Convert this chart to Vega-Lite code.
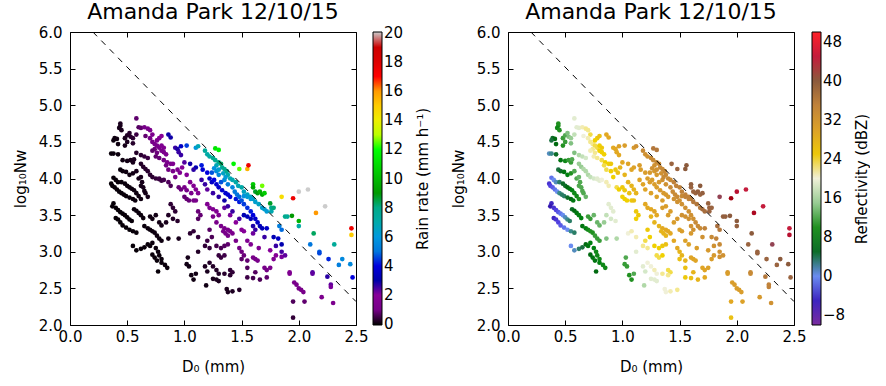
{
"$schema": "https://vega.github.io/schema/vega-lite/v6.json",
"background": "white",
"padding": {"left": 12, "top": 0, "right": 0, "bottom": 0},
"config": {
  "font": "DejaVu Sans",
  "view": {"stroke": "#000", "strokeWidth": 1},
  "axis": {"grid": false, "domain": false, "labelFlush": false, "tickColor": "#000", "tickSize": -5, "tickWidth": 1, "labelFont": "DejaVu Sans", "titleFont": "DejaVu Sans", "labelFontSize": 15, "labelColor": "#000", "titleFontSize": 15, "titleColor": "#000", "titleFontWeight": "normal", "labelPadding": 13},
  "axisBottom": {"labelPadding": 9, "titlePadding": 15},
  "axisLeft": {"titlePadding": 10},
  "legend": {"gradientLength": 293, "gradientThickness": 9, "gradientStrokeColor": "#000", "gradientStrokeWidth": 1, "labelFont": "DejaVu Sans", "labelFontSize": 15, "labelColor": "#000", "labelOffset": 7, "labelOverlap": false, "offset": -57, "padding": 0},
  "title": {"font": "DejaVu Sans", "fontSize": 22, "fontWeight": "normal", "color": "#000", "frame": "group", "offset": 0, "dy": 3},
  "concat": {"spacing": 19}
},
"datasets": {
  "line": [{"D0": 0.2, "N": 6.0}, {"D0": 2.5, "N": 2.32}],
  "pts": [
{"D0":0.44,"N":4.75,"R":0.19,"Z":10},{"D0":0.44,"N":4.72,"R":0.17,"Z":10},{"D0":0.43,"N":4.69,"R":0.14,"Z":9},{"D0":0.45,"N":4.66,"R":0.17,"Z":10},
{"D0":0.39,"N":4.55,"R":0.07,"Z":5},{"D0":0.41,"N":4.54,"R":0.08,"Z":6},{"D0":0.38,"N":4.52,"R":0.06,"Z":4},{"D0":0.42,"N":4.47,"R":0.08,"Z":6},
{"D0":0.36,"N":4.34,"R":0.03,"Z":1},{"D0":0.38,"N":4.34,"R":0.04,"Z":2},{"D0":0.42,"N":4.33,"R":0.06,"Z":5},
{"D0":0.48,"N":4.55,"R":0.17,"Z":11},{"D0":0.50,"N":4.59,"R":0.23,"Z":12},{"D0":0.52,"N":4.62,"R":0.3,"Z":14},{"D0":0.53,"N":4.57,"R":0.29,"Z":14},
{"D0":0.55,"N":4.55,"R":0.33,"Z":15},{"D0":0.50,"N":4.50,"R":0.19,"Z":11},{"D0":0.48,"N":4.45,"R":0.14,"Z":10},{"D0":0.55,"N":4.48,"R":0.28,"Z":14},
{"D0":0.58,"N":4.60,"R":0.47,"Z":17},{"D0":0.46,"N":4.25,"R":0.07,"Z":7},{"D0":0.50,"N":4.24,"R":0.1,"Z":9},{"D0":0.53,"N":4.25,"R":0.14,"Z":11},
{"D0":0.55,"N":4.22,"R":0.15,"Z":11},{"D0":0.56,"N":4.26,"R":0.18,"Z":12},{"D0":0.44,"N":4.12,"R":0.04,"Z":4},{"D0":0.46,"N":4.10,"R":0.05,"Z":5},
{"D0":0.49,"N":4.09,"R":0.07,"Z":7},{"D0":0.52,"N":4.05,"R":0.08,"Z":8},{"D0":0.55,"N":4.07,"R":0.11,"Z":10},{"D0":0.58,"N":4.10,"R":0.15,"Z":12},
{"D0":0.60,"N":4.00,"R":0.14,"Z":12},{"D0":0.62,"N":4.02,"R":0.17,"Z":13},{"D0":0.38,"N":4.01,"R":0.02,"Z":-1},{"D0":0.40,"N":3.98,"R":0.02,"Z":0},
{"D0":0.42,"N":3.95,"R":0.02,"Z":1},{"D0":0.36,"N":3.93,"R":0.01,"Z":-4},{"D0":0.37,"N":3.90,"R":0.01,"Z":-3},{"D0":0.39,"N":3.88,"R":0.01,"Z":-2},
{"D0":0.41,"N":3.85,"R":0.02,"Z":-1},{"D0":0.43,"N":3.82,"R":0.02,"Z":0},{"D0":0.45,"N":3.80,"R":0.02,"Z":2},{"D0":0.47,"N":3.78,"R":0.03,"Z":3},
{"D0":0.49,"N":3.76,"R":0.03,"Z":3},{"D0":0.52,"N":3.74,"R":0.04,"Z":5},{"D0":0.55,"N":3.72,"R":0.05,"Z":6},{"D0":0.57,"N":3.70,"R":0.05,"Z":7},
{"D0":0.45,"N":3.95,"R":0.03,"Z":3},{"D0":0.48,"N":3.93,"R":0.04,"Z":5},{"D0":0.50,"N":3.90,"R":0.05,"Z":5},{"D0":0.52,"N":3.88,"R":0.05,"Z":6},
{"D0":0.54,"N":3.86,"R":0.06,"Z":7},{"D0":0.56,"N":3.84,"R":0.07,"Z":8},{"D0":0.58,"N":3.80,"R":0.07,"Z":9},{"D0":0.60,"N":3.76,"R":0.08,"Z":9},
{"D0":0.62,"N":3.72,"R":0.08,"Z":10},{"D0":0.38,"N":3.66,"R":0.01,"Z":-5},{"D0":0.37,"N":3.62,"R":0.01,"Z":-6},{"D0":0.40,"N":3.60,"R":0.01,"Z":-4},
{"D0":0.42,"N":3.57,"R":0.01,"Z":-3},{"D0":0.44,"N":3.54,"R":0.01,"Z":-2},{"D0":0.46,"N":3.52,"R":0.01,"Z":-1},{"D0":0.48,"N":3.50,"R":0.02,"Z":0},
{"D0":0.50,"N":3.47,"R":0.02,"Z":1},{"D0":0.52,"N":3.44,"R":0.02,"Z":2},{"D0":0.54,"N":3.42,"R":0.02,"Z":3},{"D0":0.40,"N":3.46,"R":0.01,"Z":-5},
{"D0":0.42,"N":3.44,"R":0.01,"Z":-4},{"D0":0.44,"N":3.40,"R":0.01,"Z":-3},{"D0":0.46,"N":3.36,"R":0.01,"Z":-2},{"D0":0.49,"N":3.33,"R":0.01,"Z":-1},
{"D0":0.52,"N":3.30,"R":0.01,"Z":0},{"D0":0.55,"N":3.28,"R":0.02,"Z":2},{"D0":0.58,"N":3.26,"R":0.02,"Z":3},{"D0":0.56,"N":3.58,"R":0.04,"Z":5},
{"D0":0.58,"N":3.56,"R":0.04,"Z":6},{"D0":0.60,"N":3.53,"R":0.05,"Z":7},{"D0":0.62,"N":3.50,"R":0.05,"Z":8},{"D0":0.64,"N":3.46,"R":0.05,"Z":8},
{"D0":0.62,"N":3.90,"R":0.13,"Z":12},{"D0":0.64,"N":3.88,"R":0.14,"Z":12},{"D0":0.65,"N":3.83,"R":0.13,"Z":12},{"D0":0.66,"N":3.80,"R":0.13,"Z":12},
{"D0":0.68,"N":3.75,"R":0.14,"Z":13},{"D0":0.63,"N":3.95,"R":0.15,"Z":12},{"D0":0.55,"N":3.08,"R":0.01,"Z":0},{"D0":0.58,"N":3.02,"R":0.01,"Z":1},
{"D0":0.62,"N":3.04,"R":0.02,"Z":3},{"D0":0.65,"N":3.06,"R":0.02,"Z":4},{"D0":0.68,"N":3.10,"R":0.03,"Z":6},{"D0":0.70,"N":3.08,"R":0.03,"Z":7},
{"D0":0.72,"N":3.12,"R":0.04,"Z":8},{"D0":0.75,"N":3.05,"R":0.04,"Z":8},{"D0":0.77,"N":3.00,"R":0.04,"Z":9},{"D0":0.78,"N":2.95,"R":0.04,"Z":9},
{"D0":0.80,"N":2.90,"R":0.04,"Z":9},{"D0":0.80,"N":2.85,"R":0.04,"Z":8},{"D0":0.76,"N":2.88,"R":0.03,"Z":7},{"D0":0.74,"N":2.92,"R":0.03,"Z":7},
{"D0":0.72,"N":2.96,"R":0.03,"Z":6},{"D0":0.77,"N":2.73,"R":0.02,"Z":6},{"D0":0.85,"N":2.78,"R":0.04,"Z":9},{"D0":0.83,"N":2.82,"R":0.04,"Z":9},
{"D0":0.65,"N":3.35,"R":0.04,"Z":7},{"D0":0.68,"N":3.32,"R":0.05,"Z":8},{"D0":0.70,"N":3.30,"R":0.06,"Z":9},{"D0":0.72,"N":3.28,"R":0.06,"Z":10},
{"D0":0.74,"N":3.26,"R":0.07,"Z":10},{"D0":0.76,"N":3.22,"R":0.07,"Z":11},{"D0":0.78,"N":3.18,"R":0.07,"Z":11},{"D0":0.80,"N":3.15,"R":0.07,"Z":11},
{"D0":0.86,"N":3.18,"R":0.11,"Z":14},{"D0":0.95,"N":3.18,"R":0.17,"Z":16},{"D0":0.70,"N":3.48,"R":0.09,"Z":11},{"D0":0.72,"N":3.45,"R":0.09,"Z":11},
{"D0":0.75,"N":3.50,"R":0.12,"Z":13},{"D0":0.78,"N":3.40,"R":0.11,"Z":13},{"D0":0.80,"N":3.36,"R":0.12,"Z":13},{"D0":0.62,"N":4.20,"R":0.25,"Z":15},
{"D0":0.64,"N":4.16,"R":0.27,"Z":15},{"D0":0.66,"N":4.13,"R":0.29,"Z":16},{"D0":0.68,"N":4.10,"R":0.31,"Z":16},{"D0":0.70,"N":4.05,"R":0.32,"Z":16},
{"D0":0.72,"N":4.02,"R":0.33,"Z":17},{"D0":0.75,"N":4.00,"R":0.39,"Z":18},{"D0":0.78,"N":3.99,"R":0.45,"Z":19},{"D0":0.80,"N":3.97,"R":0.48,"Z":19},
{"D0":0.58,"N":4.35,"R":0.26,"Z":14},{"D0":0.62,"N":4.32,"R":0.33,"Z":16},{"D0":0.65,"N":4.30,"R":0.4,"Z":17},{"D0":0.68,"N":4.28,"R":0.47,"Z":18},
{"D0":0.58,"N":4.82,"R":0.78,"Z":19},{"D0":0.60,"N":4.70,"R":0.69,"Z":19},{"D0":0.62,"N":4.69,"R":0.78,"Z":19},{"D0":0.65,"N":4.70,"R":1.0,"Z":21},
{"D0":0.68,"N":4.68,"R":1.2,"Z":22},{"D0":0.70,"N":4.66,"R":1.3,"Z":22},{"D0":0.72,"N":4.60,"R":1.3,"Z":23},{"D0":0.66,"N":4.58,"R":0.81,"Z":20},
{"D0":0.70,"N":4.55,"R":1.0,"Z":21},{"D0":0.72,"N":4.50,"R":1.0,"Z":22},{"D0":0.74,"N":4.47,"R":1.1,"Z":22},{"D0":0.76,"N":4.45,"R":1.15,"Z":23},
{"D0":0.78,"N":4.42,"R":1.2,"Z":23},{"D0":0.80,"N":4.45,"R":1.45,"Z":24},{"D0":0.82,"N":4.42,"R":1.5,"Z":25},{"D0":0.78,"N":4.55,"R":1.6,"Z":25},
{"D0":0.80,"N":4.58,"R":1.9,"Z":26},{"D0":0.76,"N":4.52,"R":1.35,"Z":24},{"D0":0.74,"N":4.40,"R":0.9,"Z":22},{"D0":0.72,"N":4.38,"R":0.76,"Z":21},
{"D0":0.76,"N":4.35,"R":0.9,"Z":22},{"D0":0.80,"N":4.38,"R":1.2,"Z":24},{"D0":0.82,"N":4.36,"R":1.3,"Z":24},{"D0":0.84,"N":4.33,"R":1.4,"Z":24},
{"D0":0.75,"N":4.30,"R":0.78,"Z":21},{"D0":0.78,"N":4.28,"R":0.87,"Z":22},{"D0":0.82,"N":4.25,"R":1.0,"Z":23},{"D0":0.85,"N":4.22,"R":1.15,"Z":24},
{"D0":0.88,"N":4.20,"R":1.3,"Z":24},{"D0":0.90,"N":4.20,"R":1.4,"Z":25},{"D0":0.84,"N":4.18,"R":0.98,"Z":23},{"D0":0.86,"N":4.12,"R":0.95,"Z":23},
{"D0":0.90,"N":4.10,"R":1.1,"Z":24},{"D0":0.94,"N":4.12,"R":1.45,"Z":25},{"D0":0.96,"N":4.08,"R":1.45,"Z":26},{"D0":0.92,"N":4.02,"R":1.0,"Z":24},
{"D0":0.86,"N":4.60,"R":2.9,"Z":28},{"D0":0.88,"N":4.56,"R":2.9,"Z":28},{"D0":0.92,"N":4.42,"R":2.6,"Z":28},{"D0":0.94,"N":4.40,"R":2.8,"Z":28},
{"D0":0.95,"N":4.36,"R":2.6,"Z":28},{"D0":0.97,"N":4.32,"R":2.6,"Z":28},{"D0":0.78,"N":4.00,"R":0.46,"Z":19},{"D0":0.82,"N":3.98,"R":0.55,"Z":20},
{"D0":0.86,"N":3.95,"R":0.65,"Z":21},{"D0":0.88,"N":3.90,"R":0.63,"Z":21},{"D0":0.95,"N":3.88,"R":0.87,"Z":23},{"D0":0.97,"N":3.85,"R":0.9,"Z":24},
{"D0":1.00,"N":3.88,"R":1.1,"Z":25},{"D0":1.02,"N":3.84,"R":1.1,"Z":25},{"D0":1.00,"N":3.75,"R":0.81,"Z":24},{"D0":1.02,"N":3.72,"R":0.83,"Z":24},
{"D0":1.04,"N":3.70,"R":0.87,"Z":24},{"D0":1.06,"N":3.80,"R":1.2,"Z":26},{"D0":1.08,"N":3.70,"R":1.0,"Z":25},{"D0":0.88,"N":3.65,"R":0.35,"Z":19},
{"D0":0.90,"N":3.60,"R":0.35,"Z":19},{"D0":0.92,"N":3.55,"R":0.35,"Z":19},{"D0":0.86,"N":3.50,"R":0.23,"Z":17},{"D0":0.90,"N":3.45,"R":0.25,"Z":18},
{"D0":0.94,"N":3.42,"R":0.29,"Z":19},{"D0":0.84,"N":3.40,"R":0.16,"Z":15},{"D0":1.10,"N":3.85,"R":1.6,"Z":27},{"D0":1.12,"N":3.80,"R":1.55,"Z":27},
{"D0":1.10,"N":3.70,"R":1.1,"Z":26},{"D0":1.12,"N":3.55,"R":0.87,"Z":25},{"D0":1.14,"N":3.50,"R":0.83,"Z":25},{"D0":1.12,"N":3.45,"R":0.69,"Z":24},
{"D0":1.05,"N":3.25,"R":0.32,"Z":20},{"D0":1.08,"N":3.28,"R":0.39,"Z":21},{"D0":1.12,"N":3.20,"R":0.39,"Z":21},{"D0":1.20,"N":3.65,"R":1.5,"Z":28},
{"D0":1.22,"N":3.60,"R":1.45,"Z":28},{"D0":1.25,"N":3.58,"R":1.55,"Z":28},{"D0":1.28,"N":3.55,"R":1.6,"Z":29},{"D0":1.30,"N":3.50,"R":1.5,"Z":28},
{"D0":1.25,"N":3.48,"R":1.2,"Z":27},{"D0":1.28,"N":3.40,"R":1.1,"Z":27},{"D0":1.32,"N":3.35,"R":1.2,"Z":27},{"D0":1.35,"N":3.32,"R":1.2,"Z":28},
{"D0":1.38,"N":3.30,"R":1.25,"Z":28},{"D0":1.40,"N":3.28,"R":1.3,"Z":28},{"D0":1.42,"N":3.25,"R":1.3,"Z":28},{"D0":1.36,"N":3.25,"R":1.05,"Z":27},
{"D0":1.38,"N":3.22,"R":1.05,"Z":27},{"D0":1.34,"N":3.28,"R":1.05,"Z":27},{"D0":1.22,"N":3.30,"R":0.72,"Z":25},{"D0":1.24,"N":3.20,"R":0.62,"Z":24},
{"D0":1.20,"N":3.15,"R":0.47,"Z":23},{"D0":1.18,"N":3.08,"R":0.37,"Z":22},{"D0":1.22,"N":3.05,"R":0.41,"Z":22},{"D0":1.28,"N":3.08,"R":0.54,"Z":24},
{"D0":1.32,"N":3.05,"R":0.59,"Z":24},{"D0":1.35,"N":3.08,"R":0.69,"Z":25},{"D0":1.38,"N":3.10,"R":0.79,"Z":26},{"D0":1.30,"N":2.95,"R":0.43,"Z":23},
{"D0":1.32,"N":2.92,"R":0.44,"Z":23},{"D0":1.35,"N":2.95,"R":0.51,"Z":24},{"D0":1.45,"N":3.15,"R":1.1,"Z":28},{"D0":1.48,"N":3.05,"R":0.98,"Z":28},
{"D0":1.50,"N":3.00,"R":0.93,"Z":27},{"D0":1.52,"N":2.95,"R":0.89,"Z":27},{"D0":1.50,"N":2.90,"R":0.74,"Z":26},{"D0":1.55,"N":2.88,"R":0.83,"Z":27},
{"D0":1.60,"N":2.92,"R":1.05,"Z":29},{"D0":1.62,"N":2.90,"R":1.05,"Z":29},{"D0":1.64,"N":2.88,"R":1.07,"Z":29},{"D0":1.58,"N":3.10,"R":1.5,"Z":30},
{"D0":1.55,"N":3.15,"R":1.55,"Z":30},{"D0":1.50,"N":3.30,"R":1.9,"Z":30},{"D0":1.52,"N":3.28,"R":1.9,"Z":31},{"D0":1.45,"N":3.40,"R":2.0,"Z":31},
{"D0":1.48,"N":3.45,"R":2.5,"Z":32},{"D0":1.40,"N":3.50,"R":2.1,"Z":31},{"D0":1.42,"N":3.55,"R":2.6,"Z":31},{"D0":1.35,"N":3.60,"R":2.3,"Z":31},
{"D0":1.38,"N":3.62,"R":2.6,"Z":31},{"D0":1.22,"N":2.85,"R":0.26,"Z":20},{"D0":1.25,"N":2.80,"R":0.26,"Z":20},{"D0":1.28,"N":2.75,"R":0.25,"Z":21},
{"D0":1.30,"N":2.70,"R":0.24,"Z":20},{"D0":1.28,"N":2.62,"R":0.19,"Z":19},{"D0":1.35,"N":2.70,"R":0.29,"Z":22},{"D0":1.40,"N":2.75,"R":0.38,"Z":23},
{"D0":1.42,"N":2.72,"R":0.38,"Z":23},{"D0":1.40,"N":2.68,"R":0.32,"Z":22},{"D0":1.18,"N":2.80,"R":0.2,"Z":19},{"D0":1.20,"N":2.73,"R":0.18,"Z":18},
{"D0":1.55,"N":2.78,"R":0.66,"Z":26},{"D0":1.62,"N":2.72,"R":0.69,"Z":27},{"D0":1.70,"N":2.78,"R":1.0,"Z":29},{"D0":1.72,"N":2.75,"R":0.98,"Z":29},
{"D0":1.75,"N":2.78,"R":1.15,"Z":30},{"D0":1.72,"N":2.65,"R":0.78,"Z":28},{"D0":1.78,"N":2.90,"R":1.6,"Z":31},{"D0":1.80,"N":2.95,"R":1.9,"Z":32},
{"D0":1.85,"N":2.93,"R":2.1,"Z":33},{"D0":1.88,"N":2.95,"R":2.3,"Z":33},{"D0":1.92,"N":2.72,"R":1.5,"Z":32},{"D0":1.92,"N":2.70,"R":1.45,"Z":31},
{"D0":1.96,"N":2.58,"R":1.2,"Z":31},{"D0":1.98,"N":2.55,"R":1.2,"Z":31},{"D0":2.00,"N":2.50,"R":1.1,"Z":31},{"D0":2.02,"N":2.48,"R":1.1,"Z":31},
{"D0":2.04,"N":2.45,"R":1.07,"Z":31},{"D0":1.95,"N":2.32,"R":0.65,"Z":28},{"D0":2.05,"N":2.32,"R":0.81,"Z":30},{"D0":2.12,"N":2.72,"R":2.4,"Z":34},
{"D0":2.12,"N":2.70,"R":2.3,"Z":34},{"D0":2.20,"N":2.38,"R":1.3,"Z":32},{"D0":2.28,"N":2.55,"R":2.3,"Z":35},{"D0":2.28,"N":2.52,"R":2.1,"Z":35},
{"D0":2.30,"N":2.30,"R":1.3,"Z":33},{"D0":1.95,"N":2.10,"R":0.39,"Z":26},{"D0":1.19,"N":2.54,"R":0.11,"Z":16},{"D0":1.25,"N":2.63,"R":0.17,"Z":19},
{"D0":1.30,"N":2.60,"R":0.19,"Z":19},{"D0":1.37,"N":2.49,"R":0.19,"Z":20},{"D0":1.38,"N":2.45,"R":0.18,"Z":20},{"D0":1.42,"N":2.46,"R":0.21,"Z":21},
{"D0":1.48,"N":2.48,"R":0.26,"Z":22},{"D0":1.03,"N":2.92,"R":0.14,"Z":12},{"D0":1.02,"N":2.83,"R":0.11,"Z":11},{"D0":1.04,"N":2.80,"R":0.11,"Z":11},
{"D0":1.06,"N":2.68,"R":0.09,"Z":10},{"D0":1.08,"N":2.62,"R":0.09,"Z":10},{"D0":1.10,"N":2.70,"R":0.11,"Z":12},{"D0":1.12,"N":3.00,"R":0.25,"Z":19},
{"D0":1.60,"N":2.64,"R":0.55,"Z":26},{"D0":1.55,"N":2.65,"R":0.49,"Z":25},{"D0":1.66,"N":2.62,"R":0.62,"Z":27},
{"D0":1.02,"N":4.45,"R":4.5,"Z":31},{"D0":0.97,"N":4.44,"R":3.5,"Z":30},{"D0":1.10,"N":4.42,"R":5.9,"Z":32},{"D0":1.12,"N":4.44,"R":6.8,"Z":33},
{"D0":1.18,"N":4.38,"R":7.4,"Z":34},{"D0":1.20,"N":4.33,"R":7.1,"Z":33},{"D0":1.22,"N":4.30,"R":7.2,"Z":33},{"D0":1.25,"N":4.28,"R":7.8,"Z":34},
{"D0":1.27,"N":4.25,"R":7.8,"Z":34},{"D0":1.30,"N":4.22,"R":7.9,"Z":34},{"D0":1.28,"N":4.18,"R":6.8,"Z":33},{"D0":1.32,"N":4.20,"R":8.3,"Z":34},
{"D0":1.33,"N":4.15,"R":7.6,"Z":34},{"D0":1.35,"N":4.13,"R":7.8,"Z":34},{"D0":1.28,"N":4.10,"R":5.6,"Z":32},{"D0":1.30,"N":4.05,"R":5.4,"Z":32},
{"D0":1.34,"N":4.07,"R":6.5,"Z":33},{"D0":1.37,"N":4.10,"R":7.8,"Z":34},{"D0":1.38,"N":4.05,"R":7.1,"Z":34},{"D0":1.40,"N":4.00,"R":6.8,"Z":34},
{"D0":1.42,"N":3.98,"R":6.9,"Z":34},{"D0":1.45,"N":3.95,"R":7.1,"Z":35},{"D0":1.47,"N":3.90,"R":6.8,"Z":35},{"D0":1.50,"N":3.88,"R":7.1,"Z":35},
{"D0":1.52,"N":3.82,"R":6.6,"Z":35},{"D0":1.55,"N":3.78,"R":6.6,"Z":35},{"D0":1.58,"N":3.75,"R":6.6,"Z":35},{"D0":1.60,"N":3.72,"R":6.6,"Z":36},
{"D0":1.62,"N":3.68,"R":6.3,"Z":36},{"D0":1.65,"N":3.65,"R":6.5,"Z":36},{"D0":1.68,"N":3.60,"R":6.3,"Z":36},{"D0":1.70,"N":3.58,"R":6.3,"Z":37},
{"D0":1.72,"N":3.55,"R":6.2,"Z":37},{"D0":1.76,"N":3.55,"R":6.9,"Z":38},{"D0":1.10,"N":4.15,"R":3.2,"Z":30},{"D0":1.15,"N":4.18,"R":4.2,"Z":31},
{"D0":1.16,"N":4.12,"R":3.8,"Z":31},{"D0":1.20,"N":4.08,"R":4.0,"Z":31},{"D0":1.22,"N":4.00,"R":3.6,"Z":31},{"D0":1.24,"N":3.95,"R":3.5,"Z":31},
{"D0":1.26,"N":3.98,"R":4.0,"Z":31},{"D0":1.28,"N":3.92,"R":3.7,"Z":31},{"D0":1.30,"N":3.88,"R":3.6,"Z":31},{"D0":1.33,"N":3.84,"R":3.7,"Z":32},
{"D0":1.36,"N":3.80,"R":3.7,"Z":32},{"D0":1.38,"N":3.78,"R":3.8,"Z":32},{"D0":1.40,"N":3.75,"R":3.8,"Z":32},{"D0":1.45,"N":3.72,"R":4.2,"Z":33},
{"D0":1.48,"N":3.68,"R":4.2,"Z":33},{"D0":1.50,"N":3.70,"R":4.7,"Z":33},{"D0":1.52,"N":3.65,"R":4.5,"Z":33},{"D0":1.55,"N":3.60,"R":4.4,"Z":33},
{"D0":1.58,"N":3.55,"R":4.2,"Z":33},{"D0":1.60,"N":3.50,"R":4.0,"Z":33},{"D0":1.62,"N":3.45,"R":3.7,"Z":33},{"D0":1.64,"N":3.40,"R":3.5,"Z":34},
{"D0":1.66,"N":3.35,"R":3.3,"Z":34},{"D0":1.68,"N":3.32,"R":3.3,"Z":34},{"D0":1.08,"N":4.12,"R":2.7,"Z":29},{"D0":1.05,"N":4.20,"R":2.9,"Z":29},
{"D0":1.00,"N":4.22,"R":2.4,"Z":28},{"D0":1.35,"N":3.98,"R":5.5,"Z":33},{"D0":1.32,"N":3.95,"R":4.7,"Z":32},{"D0":1.38,"N":3.92,"R":5.2,"Z":33},
{"D0":1.42,"N":3.88,"R":5.5,"Z":34},{"D0":1.44,"N":3.82,"R":5.1,"Z":34},{"D0":1.46,"N":3.78,"R":5.0,"Z":34},{"D0":1.48,"N":3.75,"R":4.9,"Z":34},
{"D0":1.52,"N":3.76,"R":5.8,"Z":34},{"D0":1.55,"N":3.75,"R":6.2,"Z":35},{"D0":1.58,"N":3.72,"R":6.2,"Z":35},{"D0":1.30,"N":4.12,"R":6.3,"Z":33},
{"D0":1.26,"N":4.14,"R":5.8,"Z":33},{"D0":1.24,"N":4.08,"R":4.7,"Z":32},{"D0":1.36,"N":4.02,"R":6.2,"Z":34},{"D0":1.72,"N":3.32,"R":3.6,"Z":35},
{"D0":1.78,"N":3.20,"R":3.2,"Z":34},{"D0":1.82,"N":3.18,"R":3.5,"Z":35},{"D0":1.80,"N":3.08,"R":2.6,"Z":33},{"D0":1.85,"N":3.10,"R":3.1,"Z":34},
{"D0":1.85,"N":3.00,"R":2.5,"Z":33},{"D0":1.83,"N":3.35,"R":5.2,"Z":37},{"D0":1.85,"N":3.30,"R":4.9,"Z":36},{"D0":1.52,"N":3.50,"R":3.2,"Z":33},
{"D0":1.55,"N":3.48,"R":3.3,"Z":33},{"D0":1.58,"N":3.45,"R":3.3,"Z":33},{"D0":1.60,"N":3.35,"R":2.8,"Z":33},{"D0":1.62,"N":3.30,"R":2.6,"Z":33},
{"D0":1.60,"N":3.25,"R":2.2,"Z":32},
{"D0":1.27,"N":4.41,"R":11.2,"Z":36},{"D0":1.30,"N":4.39,"R":11.7,"Z":36},{"D0":1.43,"N":4.20,"R":11.7,"Z":38},{"D0":1.48,"N":4.13,"R":12.5,"Z":38},
{"D0":1.55,"N":4.13,"R":15.5,"Z":40},{"D0":1.56,"N":4.18,"R":17.5,"Z":40},{"D0":1.60,"N":3.92,"R":10.5,"Z":39},{"D0":1.68,"N":3.90,"R":12.6,"Z":40},
{"D0":1.60,"N":3.88,"R":9.5,"Z":38},{"D0":1.62,"N":3.82,"R":8.7,"Z":38},{"D0":1.64,"N":3.80,"R":8.9,"Z":38},{"D0":1.66,"N":3.82,"R":9.8,"Z":39},
{"D0":1.68,"N":3.78,"R":9.5,"Z":38},{"D0":1.70,"N":3.80,"R":10.5,"Z":39},{"D0":1.75,"N":3.66,"R":8.7,"Z":38},{"D0":1.76,"N":3.60,"R":7.8,"Z":38},
{"D0":1.78,"N":3.60,"R":8.1,"Z":38},{"D0":1.85,"N":3.75,"R":14.5,"Z":41},{"D0":1.95,"N":3.73,"R":17.5,"Z":42},{"D0":2.00,"N":3.82,"R":21,"Z":44},
{"D0":2.08,"N":3.85,"R":22,"Z":45},{"D0":2.23,"N":3.62,"R":21,"Z":45},{"D0":2.15,"N":3.53,"R":16,"Z":43},{"D0":1.88,"N":3.48,"R":7.9,"Z":39},
{"D0":1.90,"N":3.48,"R":7.6,"Z":39},{"D0":1.94,"N":3.49,"R":9,"Z":40},{"D0":2.00,"N":3.42,"R":9.8,"Z":40},{"D0":2.00,"N":3.35,"R":7.2,"Z":39},
{"D0":2.13,"N":3.25,"R":8.3,"Z":40},{"D0":2.31,"N":3.10,"R":7.5,"Z":41},{"D0":2.46,"N":3.32,"R":17.5,"Z":45},{"D0":2.46,"N":3.23,"R":15,"Z":44},
{"D0":2.10,"N":3.10,"R":5.0,"Z":38},{"D0":2.18,"N":3.00,"R":4.8,"Z":38},{"D0":2.18,"N":2.98,"R":4.6,"Z":38},{"D0":2.26,"N":2.90,"R":4.3,"Z":38},
{"D0":2.35,"N":2.82,"R":5.2,"Z":38},{"D0":2.38,"N":2.90,"R":5.5,"Z":40},{"D0":2.45,"N":2.83,"R":5.5,"Z":40},{"D0":2.47,"N":2.65,"R":4.0,"Z":38},
{"D0":2.25,"N":2.66,"R":2.7,"Z":36},{"D0":1.05,"N":3.95,"R":1.6,"Z":27},{"D0":1.08,"N":3.90,"R":1.6,"Z":27},{"D0":1.15,"N":3.98,"R":2.6,"Z":29},
{"D0":1.18,"N":3.92,"R":2.6,"Z":29},{"D0":1.20,"N":3.85,"R":2.3,"Z":29},{"D0":1.25,"N":3.80,"R":2.6,"Z":30},{"D0":1.30,"N":3.75,"R":2.7,"Z":30},
{"D0":1.35,"N":3.70,"R":2.9,"Z":31},{"D0":0.98,"N":4.15,"R":1.9,"Z":27},{"D0":1.02,"N":4.05,"R":1.8,"Z":27},{"D0":1.75,"N":3.02,"R":2.0,"Z":32},
{"D0":1.65,"N":3.05,"R":1.6,"Z":31},{"D0":1.70,"N":3.20,"R":2.6,"Z":33}
  ]
},
"hconcat": [
  {
    "width": 286, "height": 293,
    "title": "Amanda Park 12/10/15",
    "layer": [
      {"data": {"name": "pts"},
       "mark": {"type": "circle", "size": 22, "opacity": 1},
       "encoding": {
         "x": {"field": "D0", "type": "quantitative", "scale": {"domain": [0, 2.5], "nice": false, "zero": false}, "axis": {"title": "D₀ (mm)", "values": [0, 0.5, 1, 1.5, 2, 2.5], "format": ".1f"}},
         "y": {"field": "N", "type": "quantitative", "scale": {"domain": [2, 6], "nice": false, "zero": false}, "axis": {"title": "log₁₀Nw", "values": [2, 2.5, 3, 3.5, 4, 4.5, 5, 5.5, 6], "format": ".1f"}},
         "color": {"field": "R", "type": "quantitative",
           "scale": {"domain": [-0.05,1,2,3,4,5,6,7,8,9,10,11,12,13,14,15,16,17,18,19,20.05],
                     "range": ["#000000","#770088","#880099","#0000aa","#0000dd","#0077dd","#0099dd","#00aaaa","#00aa88","#009900","#00bb00","#00dd00","#00ff00","#bbff00","#eeee00","#ffcc00","#ff9900","#ff0000","#dd0000","#cc0000","#cccccc"],
                     "interpolate": "rgb", "clamp": true},
           "legend": {"title": null, "values": [0,2,4,6,8,10,12,14,16,18,20]}}
       }},
      {"data": {"name": "line"},
       "mark": {"type": "line", "color": "#000", "strokeDash": [6, 6], "strokeWidth": 1},
       "encoding": {
         "x": {"field": "D0", "type": "quantitative", "scale": {"domain": [0, 2.5], "nice": false, "zero": false}, "axis": {"orient": "top", "labels": false, "title": null, "values": [0, 0.5, 1, 1.5, 2, 2.5]}},
         "y": {"field": "N", "type": "quantitative", "scale": {"domain": [2, 6], "nice": false, "zero": false}, "axis": {"orient": "right", "labels": false, "title": "Rain rate (mm h⁻¹)", "titleAngle": 270, "titleX": 66, "titleY": 146.5, "titleAlign": "center", "titleBaseline": "middle", "values": [2, 2.5, 3, 3.5, 4, 4.5, 5, 5.5, 6]}}
       }}
    ],
    "resolve": {"axis": {"x": "independent", "y": "independent"}}
  },
  {
    "width": 286, "height": 293,
    "title": "Amanda Park 12/10/15",
    "layer": [
      {"data": {"name": "pts"},
       "mark": {"type": "circle", "size": 22, "opacity": 1},
       "encoding": {
         "x": {"field": "D0", "type": "quantitative", "scale": {"domain": [0, 2.5], "nice": false, "zero": false}, "axis": {"title": "D₀ (mm)", "values": [0, 0.5, 1, 1.5, 2, 2.5], "format": ".1f"}},
         "y": {"field": "N", "type": "quantitative", "scale": {"domain": [2, 6], "nice": false, "zero": false}, "axis": {"title": "log₁₀Nw", "values": [2, 2.5, 3, 3.5, 4, 4.5, 5, 5.5, 6], "format": ".1f"}},
         "color": {"field": "Z", "type": "quantitative",
           "scale": {"domain": [-10,-8,-6,-3,0,2,4,6,8,10,12,14,16,18,20,22,24,26,28,32,35,38,40,40.8,42,44,46,48,50],
                     "range": ["#7a2c9e","#2c1080","#3418b0","#5040e0","#6a8cf0","#3a8a8a","#1a7040","#006a10","#008010","#209020","#50a850","#80c080","#b0d8a8","#d4e8c8","#f0f0d8","#f4e890","#f0d000","#eac014","#e2a822","#d6992e","#c0823a","#9a6440","#8b5a3c","#905060","#a00010","#b81030","#d02848","#e83858","#ff2028"],
                     "interpolate": "rgb", "clamp": true},
           "legend": {"title": null, "values": [-8,0,8,16,24,32,40,48], "labelExpr": "replace(datum.label, '-', '−')"}}
       }},
      {"data": {"name": "line"},
       "mark": {"type": "line", "color": "#000", "strokeDash": [6, 6], "strokeWidth": 1},
       "encoding": {
         "x": {"field": "D0", "type": "quantitative", "scale": {"domain": [0, 2.5], "nice": false, "zero": false}, "axis": {"orient": "top", "labels": false, "title": null, "values": [0, 0.5, 1, 1.5, 2, 2.5]}},
         "y": {"field": "N", "type": "quantitative", "scale": {"domain": [2, 6], "nice": false, "zero": false}, "axis": {"orient": "right", "labels": false, "title": "Reflectivity (dBZ)", "titleAngle": 270, "titleX": 67, "titleY": 146.5, "titleAlign": "center", "titleBaseline": "middle", "values": [2, 2.5, 3, 3.5, 4, 4.5, 5, 5.5, 6]}}
       }}
    ],
    "resolve": {"axis": {"x": "independent", "y": "independent"}}
  }
],
"resolve": {"scale": {"color": "independent"}, "legend": {"color": "independent"}}
}
